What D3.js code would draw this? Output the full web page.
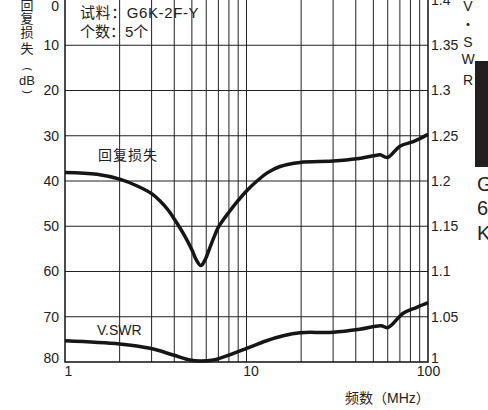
<!DOCTYPE html>
<html>
<head>
<meta charset="utf-8">
<script src="https://cdn.jsdelivr.net/npm/d3@7"></script>
<style>
  body { margin: 0; background: #fff; }
  svg { display: block; font-family: "Liberation Sans", Arial, "Noto Sans CJK SC", sans-serif; }
</style>
</head>
<body>
<script>
// return loss curve (dB, left axis)
var rlFreq  = [1, 1.5, 2, 2.5, 3, 3.34, 3.7, 4, 4.5, 5, 5.3, 5.6, 5.9, 6.3, 6.7, 7, 7.5, 8, 9, 10, 11.5, 13, 15.3, 19.7, 30, 40.5, 52, 54.5, 59.9, 70, 83, 100];
var rlValue = [38.1, 38.5, 39.6, 41.1, 42.8, 44.4, 46.4, 48.4, 51.7, 55.2, 57.5, 58.7, 57.5, 54.6, 51.9, 50.2, 48.4, 46.9, 44.3, 42.2, 39.9, 38.2, 36.8, 35.9, 35.6, 35.1, 34.3, 34.2, 34.8, 32.3, 31.3, 29.7];

// V.SWR curve (right axis)
var vsFreq  = [1, 2, 2.94, 3.95, 4.88, 5.5, 6.56, 8.48, 10, 12.9, 15.9, 19.7, 30, 42, 55, 60, 73, 86.7, 100];
var vsValue = [1.0235, 1.0199, 1.0151, 1.0077, 1.0022, 1.001, 1.0022, 1.0096, 1.015, 1.0235, 1.029, 1.0324, 1.0328, 1.0361, 1.0401, 1.038, 1.0538, 1.0604, 1.0655];

// ticks
var leftTicks  = [0, 10, 20, 30, 40, 50, 60, 70, 80];
var rightTicks = [1, 1.05, 1.1, 1.15, 1.2, 1.25, 1.3, 1.35, 1.4];
var rightLabels = ['1', '1.05', '1.1', '1.15', '1.2', '1.25', '1.3', '1.35', '1.4'];
var bottomTicks = [1, 10, 100];
var gridFreq = [2, 3, 4, 5, 6, 7, 8, 9, 10, 20, 30, 40, 50, 60, 70, 80, 90];

drawChart();

function drawChart(){

    var width = 488, height = 410;
    var plotLeft = 65, plotRight = 428, plotTop = 0, plotBottom = 362;

    var svg = d3.select('body').append('svg')
        .attr('width', width)
        .attr('height', height);

    var x = d3.scaleLog().domain([1, 100]).range([plotLeft, plotRight]);
    var yL = d3.scaleLinear().domain([0, 80]).range([plotTop, plotBottom]);
    var yR = d3.scaleLinear().domain([1, 1.4]).range([plotBottom, plotTop]);

    //grid
    svg.append('g').selectAll('line')
        .data(gridFreq)
        .enter().append('line')
        .attr('x1', d => x(d)).attr('x2', d => x(d))
        .attr('y1', plotTop).attr('y2', plotBottom)
        .attr('stroke', '#222').attr('stroke-width', 1);

    svg.append('g').selectAll('line')
        .data(leftTicks.slice(1, -1))
        .enter().append('line')
        .attr('x1', plotLeft).attr('x2', plotRight)
        .attr('y1', d => yL(d)).attr('y2', d => yL(d))
        .attr('stroke', '#222').attr('stroke-width', 1);

    //frame (left, bottom, right)
    svg.append('path')
        .attr('d', 'M' + plotLeft + ',' + plotTop + 'V' + plotBottom + 'H' + plotRight + 'V' + plotTop)
        .attr('fill', 'none').attr('stroke', '#111').attr('stroke-width', 1.5);

    //axes
    var axL = svg.append('g')
        .attr('transform', 'translate(' + plotLeft + ',0)')
        .call(d3.axisLeft(yL).tickValues(leftTicks).tickSize(0).tickPadding(6));
    axL.select('.domain').remove();
    axL.selectAll('text').attr('font-size', 14).attr('fill', '#222')
        .attr('font-family', '"Liberation Sans", Arial, sans-serif')
        .attr('y', d => d === 80 ? -4 : 0)
        .attr('dy', d => d === 0 ? '0.75em' : '0.32em');

    var axR = svg.append('g')
        .attr('transform', 'translate(' + plotRight + ',0)')
        .call(d3.axisRight(yR).tickValues(rightTicks).tickSize(0).tickPadding(3)
            .tickFormat((d, i) => rightLabels[i]));
    axR.select('.domain').remove();
    axR.selectAll('text').attr('font-size', 14).attr('fill', '#222')
        .attr('font-family', '"Liberation Sans", Arial, sans-serif')
        .attr('y', d => d === 1 ? -4 : 0);

    var axB = svg.append('g')
        .attr('transform', 'translate(0,' + plotBottom + ')')
        .call(d3.axisBottom(x).tickValues(bottomTicks).tickSize(0).tickPadding(4)
            .tickFormat(d3.format('d')));
    axB.select('.domain').remove();
    axB.selectAll('text').attr('font-size', 14).attr('fill', '#222')
        .attr('font-family', '"Liberation Sans", Arial, sans-serif')
        .attr('text-anchor', d => d === 1 ? 'start' : 'middle')
        .attr('dx', d => d === 1 ? -1 : (d === 10 ? 4 : 0));

    //curves
    var rlLine = d3.line()
        .x(d => x(d[0])).y(d => yL(d[1]))
        .curve(d3.curveCatmullRom.alpha(0.5));
    var vsLine = d3.line()
        .x(d => x(d[0])).y(d => yR(d[1]))
        .curve(d3.curveCatmullRom.alpha(0.5));

    svg.append('path')
        .datum(d3.zip(rlFreq, rlValue))
        .attr('d', rlLine)
        .attr('fill', 'none').attr('stroke', '#161616').attr('stroke-width', 3.5)
        .attr('stroke-linejoin', 'round');

    svg.append('path')
        .datum(d3.zip(vsFreq, vsValue))
        .attr('d', vsLine)
        .attr('fill', 'none').attr('stroke', '#161616').attr('stroke-width', 3.5)
        .attr('stroke-linejoin', 'round');

    //labels inside the plot
    svg.append('text').attr('x', 80).attr('y', 18)
        .attr('font-size', 15).attr('fill', '#222').attr('letter-spacing', 0.6)
        .text('试料：G6K-2F-Y');
    svg.append('text').attr('x', 80).attr('y', 37)
        .attr('font-size', 15).attr('fill', '#222')
        .text('个数：5个');
    svg.append('text').attr('x', 98).attr('y', 160)
        .attr('font-size', 14).attr('fill', '#222').attr('letter-spacing', 1)
        .text('回复损失');
    svg.append('text').attr('x', 97).attr('y', 335)
        .attr('font-size', 14).attr('fill', '#222')
        .text('V.SWR');

    //x axis title
    svg.append('text').attr('x', 345).attr('y', 403)
        .attr('font-size', 14).attr('fill', '#222')
        .text('频数（MHz）');

    //vertical left title
    var leftTitle = [['回', 5], ['复', 18], ['损', 32], ['失', 48], ['dB', 80]];
    svg.append('g').selectAll('text')
        .data(leftTitle)
        .enter().append('text')
        .attr('x', 27).attr('y', d => d[1])
        .attr('dy', '0.36em')
        .attr('text-anchor', 'middle')
        .attr('font-size', 13).attr('fill', '#222')
        .text(d => d[0]);

    //rotated brackets around dB
    var brackets = [['(', 69], [')', 92]];
    svg.append('g').selectAll('text')
        .data(brackets)
        .enter().append('text')
        .attr('transform', d => 'translate(27,' + d[1] + ') rotate(90)')
        .attr('dy', '0.3em')
        .attr('text-anchor', 'middle')
        .attr('font-size', 11).attr('fill', '#222')
        .text(d => d[0]);

    //vertical right title
    var rightTitle = [['V', 6], ['・', 24], ['S', 42], ['W', 59], ['R', 80]];
    svg.append('g').selectAll('text')
        .data(rightTitle)
        .enter().append('text')
        .attr('x', 468).attr('y', d => d[1])
        .attr('dy', '0.36em')
        .attr('text-anchor', 'middle')
        .attr('font-size', 14).attr('fill', '#222')
        .text(d => d[0]);

    //clipped side tab at the right edge
    svg.append('rect')
        .attr('x', 475).attr('y', 61).attr('width', 13).attr('height', 106)
        .attr('fill', '#231f20');
    var sideText = [['G', 191], ['6', 215], ['K', 240]];
    svg.append('g').selectAll('text')
        .data(sideText)
        .enter().append('text')
        .attr('x', 477).attr('y', d => d[1])
        .attr('font-size', 20).attr('fill', '#222')
        .text(d => d[0]);
}
</script>
</body>
</html>
